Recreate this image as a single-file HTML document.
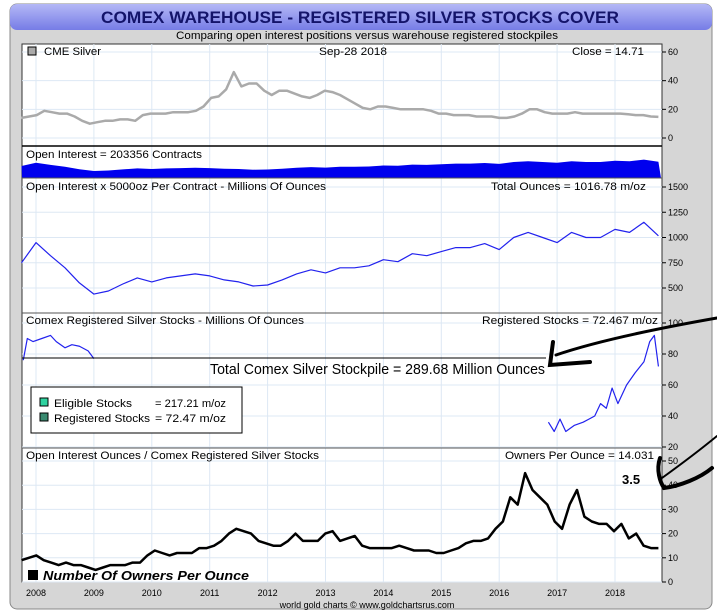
<!DOCTYPE html>
<html><head><meta charset="utf-8"><style>
body{margin:0;background:#fff;}
svg{display:block;font-family:"Liberation Sans",sans-serif;}
</style></head><body>
<svg id="chart" width="717" height="615" viewBox="0 0 717 615">
<defs><linearGradient id="tg" x1="0" y1="0" x2="0" y2="1"><stop offset="0" stop-color="#b4b8f6"/><stop offset="1" stop-color="#767ce6"/></linearGradient></defs>
<rect x="10" y="4" width="702" height="605" rx="7" fill="#d6d6d6" stroke="#888"/>
<rect x="10" y="4" width="702" height="26" rx="7" fill="url(#tg)"/>
<text x="360" y="23" text-anchor="middle" font-size="17" font-weight="bold" fill="#14146a" textLength="518" lengthAdjust="spacingAndGlyphs">COMEX WAREHOUSE - REGISTERED SILVER STOCKS COVER</text>
<text x="367" y="39" text-anchor="middle" font-size="11" fill="#000" textLength="382" lengthAdjust="spacingAndGlyphs">Comparing open interest positions versus warehouse registered stockpiles</text>
<rect x="22" y="44" width="640" height="538" fill="#fff" stroke="#333"/>
<g id="grid"></g>
<g id="marks"></g>
<g id="axes"></g>
<g font-size="11" fill="#000">
<rect x="28" y="47" width="8" height="8" fill="#aaa" stroke="#000"/>
<text x="44" y="55" textLength="57" lengthAdjust="spacingAndGlyphs">CME Silver</text>
<text x="319" y="55" textLength="68" lengthAdjust="spacingAndGlyphs">Sep-28  2018</text>
<text x="572" y="55" textLength="72" lengthAdjust="spacingAndGlyphs">Close = 14.71</text>
<text x="26" y="158" textLength="176" lengthAdjust="spacingAndGlyphs">Open Interest = 203356 Contracts</text>
<text x="26" y="190" textLength="300" lengthAdjust="spacingAndGlyphs">Open Interest x 5000oz Per Contract - Millions Of Ounces</text>
<text x="491" y="190" textLength="155" lengthAdjust="spacingAndGlyphs">Total Ounces = 1016.78 m/oz</text>
<text x="26" y="324" textLength="278" lengthAdjust="spacingAndGlyphs">Comex Registered Silver Stocks - Millions Of Ounces</text>
<text x="482" y="324" textLength="176" lengthAdjust="spacingAndGlyphs">Registered Stocks = 72.467 m/oz</text>
<text x="26" y="459" textLength="293" lengthAdjust="spacingAndGlyphs">Open Interest Ounces / Comex Registered Silver Stocks</text>
<text x="505" y="459" textLength="149" lengthAdjust="spacingAndGlyphs">Owners Per Ounce = 14.031</text>
</g>
<line x1="22" y1="358" x2="546" y2="358" stroke="#000" stroke-width="1"/>
<text x="210" y="374" font-size="15" textLength="335" lengthAdjust="spacingAndGlyphs">Total Comex Silver Stockpile = 289.68 Million Ounces</text>
<g>
<rect x="31" y="387" width="211" height="46" fill="#fff" stroke="#000"/>
<rect x="40" y="398" width="8" height="8" fill="#2fd3a0" stroke="#000"/>
<text x="54" y="407" font-size="11" textLength="78" lengthAdjust="spacingAndGlyphs">Eligible Stocks</text>
<text x="155" y="407" font-size="11" textLength="71" lengthAdjust="spacingAndGlyphs">= 217.21 m/oz</text>
<rect x="40" y="413" width="8" height="8" fill="#3a8a70" stroke="#000"/>
<text x="54" y="422" font-size="11" textLength="96" lengthAdjust="spacingAndGlyphs">Registered Stocks</text>
<text x="155" y="422" font-size="11" textLength="71" lengthAdjust="spacingAndGlyphs">= 72.47 m/oz</text>
</g>
<rect x="28" y="570" width="10" height="10" fill="#000"/>
<text x="43" y="580" font-size="13" font-weight="bold" font-style="italic" textLength="206" lengthAdjust="spacingAndGlyphs">Number Of Owners Per Ounce</text>
<text x="367" y="608" text-anchor="middle" font-size="9">world gold charts © www.goldchartsrus.com</text>
<g fill="none" stroke="#000" stroke-linecap="round">
<path d="M717,318 C660,328 600,340 556,355" stroke-width="3"/>
<path d="M553,342 L550,365 L590,362" stroke-width="4"/>
<path d="M717,436 C700,450 680,465 662,478" stroke-width="2"/>
<path d="M660,458 C656,470 660,482 664,488 C680,486 700,478 712,468" stroke-width="4"/>
</g>
<text x="622" y="484" font-size="13" font-weight="bold">3.5</text>
<script>
const NS="http://www.w3.org/2000/svg";
const startYear=2007.75, stepYear=0.125;
const yearTicks=[2008,2009,2010,2011,2012,2013,2014,2015,2016,2017,2018];
const priceValues=[14,15,16,19,18,17,17,15,12,10,11,12,12,13,13,12,16,17,17,17,18,18,18,19,22,28,29,34,46,36,38,38,33,30,33,33,31,29,28,30,33,32,30,27,24,21,20,22,22,21,20,20,20,20,19,17,17,16,16,16,15,15,15,14,14,15,17,20,20,18,17,17,17,18,17,17,17,17,17,17,16.5,16,16,15,14.7];
const oiValues=[750,950,820,700,550,440,470,540,600,560,600,620,640,620,580,560,520,530,580,640,680,650,700,700,720,780,760,840,820,860,900,900,940,880,1000,1050,1000,950,1050,1000,1000,1080,1050,1150,1017];
const oiStep=0.25;
const regEarlyDates=[2007.78,2007.85,2007.95,2008.1,2008.25,2008.35,2008.5,2008.62,2008.75,2008.9,2009.0];
const regEarlyValues=[76,90,88,90,92,88,84,86,85,82,77];
const regLateDates=[2016.85,2016.95,2017.05,2017.15,2017.3,2017.45,2017.55,2017.65,2017.75,2017.85,2017.95,2018.05,2018.2,2018.35,2018.5,2018.6,2018.68,2018.75];
const regLateValues=[36,30,38,30,34,36,38,40,48,45,58,48,60,68,75,88,92,72];
const ownersValues=[9,10,11,9,8,7,8,7,7,6,5,6,7,7,7,8,8,11,13,12,11,12,12,12,14,14,15,17,20,22,21,20,17,16,15,15,17,20,17,17,17,20,21,17,18,19,15,14,14,14,14,15,14,13,13,13,12,12,13,14,16,17,17,18,22,25,35,32,45,38,35,32,25,22,32,38,27,25,24,24,21,24,18,20,15,14,14];
const priceTicks=[0,20,40,60], oiTicks=[500,750,1000,1250,1500], regTicks=[20,40,60,80,100], ownTicks=[0,10,20,30,40,50];
function xs(t){return 36+(t-2008)*57.9;}
function lin(d0,d1,r0,r1){return v=>r0+(v-d0)/(d1-d0)*(r1-r0);}
const yPrice=lin(0,60,138,52), yOIfill=lin(0,2000,178,146), yOI=lin(500,1500,288,187), yReg=lin(20,100,447,323), yOwn=lin(0,50,582,461);
function el(tag,attrs,parent){const e=document.createElementNS(NS,tag);for(const k in attrs)e.setAttribute(k,attrs[k]);parent.appendChild(e);return e;}
const grid=document.getElementById('grid'),marks=document.getElementById('marks'),axes=document.getElementById('axes');
yearTicks.forEach(y=>{
 const l=el('line',{x1:xs(y),x2:xs(y),y1:44,y2:582,stroke:'#dde8f4'},grid);
 
 
 const t=el('text',{x:xs(y),y:596,'text-anchor':'middle','font-size':9},axes);t.textContent=y;
 
 
});
function yTicks(ticks,f,name){ticks.forEach(v=>{
 const l=el('line',{x1:22,x2:662,y1:f(v),y2:f(v),stroke:'#dde8f4'},grid);
 
 
 el('line',{x1:662,x2:666,y1:f(v),y2:f(v),stroke:'#000'},axes);
 const t=el('text',{x:668,y:f(v)+3,'font-size':9},axes);t.textContent=v;
 
 
});}
yTicks(priceTicks,yPrice,'price');yTicks(oiTicks,yOI,'oi');yTicks(regTicks,yReg,'registered');yTicks(ownTicks,yOwn,'owners');
[146,178,313,448].forEach((y,i)=>{const l=el('line',{x1:22,x2:662,y1:y,y2:y,stroke:i==0?'#000':'#555','stroke-width':i==0?1.5:1},axes);
 
 });
function pts(vals,f,step){return vals.map((v,i)=>Math.min(661,xs(startYear+i*step)).toFixed(1)+','+f(v).toFixed(1));}
function line(p,stroke,w,name){const e=el('polyline',{points:p.join(' '),fill:'none',stroke:stroke,'stroke-width':w,'stroke-linejoin':'round'},marks);
 
 }
line(pts(priceValues,yPrice,(2018.75-startYear)/(priceValues.length-1)),'#aaa',2.5,'silver-price-line');
const fp=pts(oiValues,yOIfill,oiStep);
const area=el('polygon',{points:'22,178 '+fp.join(' ')+' 661,178',fill:'#0000ee'},marks);


line(pts(oiValues,yOI,oiStep),'#2222ee',1.2,'oi-ounces-line');
line(regEarlyDates.map((d,i)=>xs(d)+','+yReg(regEarlyValues[i])),'#2222ee',1.2,'registered-early-line');
line(regLateDates.map((d,i)=>xs(d)+','+yReg(regLateValues[i])),'#2222ee',1.2,'registered-late-line');
line(pts(ownersValues,yOwn,(2018.75-startYear)/(ownersValues.length-1)),'#000',2.5,'owners-per-ounce-line');
</script>
</svg>
</body></html>
